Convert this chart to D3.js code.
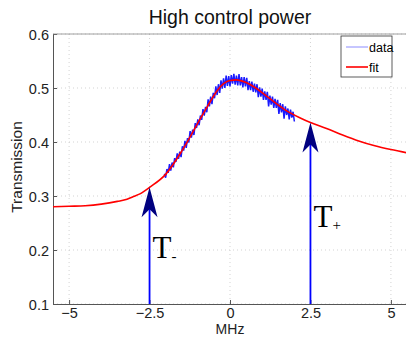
<!DOCTYPE html>
<meta charset="utf-8">
<script src="https://d3js.org/d3.v7.min.js"></script>
<style>
  body { margin: 0; background: #fff; }
</style>
<div id="chart"></div>
<script>

// fit curve
var fitX = [-5.5, -5.0, -4.5, -4.0, -3.5, -3.2, -3.0, -2.8, -2.5, -2.0, -1.5, -1.0, -0.7, -0.4, -0.2, 0.0, 0.2, 0.5, 0.8, 1.2, 1.7, 2.2, 2.5, 3.0, 3.5, 4.0, 4.5, 5.0, 5.5];
var fitY = [0.280, 0.281, 0.282, 0.285, 0.290, 0.294, 0.299, 0.304, 0.316, 0.340, 0.383, 0.435, 0.466, 0.495, 0.508, 0.514, 0.515, 0.510, 0.500, 0.482, 0.460, 0.444, 0.436, 0.425, 0.413, 0.402, 0.393, 0.386, 0.380];

// measured data, sampled every 0.04 MHz from -2.04 to 2.00
var dataStart = -2.04, dataStep = 0.04;
var dataY = [0.341, 0.334, 0.350, 0.343, 0.359, 0.347, 0.362, 0.353, 0.370, 0.363,
             0.379, 0.369, 0.382, 0.372, 0.392, 0.384, 0.402, 0.389, 0.407, 0.399,
             0.420, 0.408, 0.423, 0.413, 0.435, 0.426, 0.442, 0.431, 0.449, 0.441,
             0.461, 0.449, 0.465, 0.455, 0.479, 0.466, 0.484, 0.470, 0.491, 0.481,
             0.503, 0.487, 0.507, 0.491, 0.514, 0.499, 0.518, 0.500, 0.523, 0.504,
             0.522, 0.503, 0.524, 0.508, 0.526, 0.506, 0.523, 0.505, 0.526, 0.505,
             0.520, 0.501, 0.520, 0.503, 0.519, 0.496, 0.513, 0.496, 0.512, 0.493,
             0.508, 0.492, 0.507, 0.483, 0.501, 0.484, 0.499, 0.478, 0.494, 0.478,
             0.493, 0.466, 0.486, 0.469, 0.484, 0.463, 0.480, 0.463, 0.478, 0.452,
             0.472, 0.455, 0.470, 0.443, 0.466, 0.450, 0.462, 0.442, 0.460, 0.445,
             0.456, 0.438];

// arrows marking the two transmission points
var arrowX = [-2.5, 2.5];
var arrowTip = [0.316, 0.436];
var arrowLabel = ["-", "+"];

var xTicks = [-5, -2.5, 0, 2.5, 5];
var yTicks = [0.1, 0.2, 0.3, 0.4, 0.5, 0.6];

var margin = {top: 34, right: -1, bottom: 33, left: 53},
    W = 406, H = 337,
    width = W - margin.left - margin.right,
    height = H - margin.top - margin.bottom;

var sans = "Liberation Sans, Arial, sans-serif";

var svg = d3.select("#chart").append("svg")
    .attr("width", W).attr("height", H)
    .style("font-family", sans);

var g = svg.append("g")
    .attr("transform", "translate(" + margin.left + "," + margin.top + ")");

var x = d3.scaleLinear().domain([-5.5, 5.5]).range([0, width]);
var y = d3.scaleLinear().domain([0.1, 0.6]).range([height, 0]);

g.append("clipPath").attr("id", "clip")
  .append("rect").attr("width", width).attr("height", height);

// dotted grid
g.selectAll(".gx").data(xTicks).enter().append("line")
    .attr("x1", d => x(d)).attr("x2", d => x(d))
    .attr("y1", 0).attr("y2", height)
    .attr("stroke", "#c8c8c8").attr("stroke-width", 0.8)
    .attr("stroke-dasharray", "1,3");
g.selectAll(".gy").data(yTicks).enter().append("line")
    .attr("x1", 0).attr("x2", width)
    .attr("y1", d => y(d)).attr("y2", d => y(d))
    .attr("stroke", "#c8c8c8").attr("stroke-width", 0.8)
    .attr("stroke-dasharray", "1,3");

// axes, ticks pointing inward
var xAxis = g.append("g")
    .attr("transform", "translate(0," + height + ")")
    .call(d3.axisBottom(x).tickValues(xTicks).tickSizeInner(-4).tickSizeOuter(0)
          .tickPadding(4).tickFormat(d => d < 0 ? "\u2212" + Math.abs(d) : d));
var yAxis = g.append("g")
    .call(d3.axisLeft(y).tickValues(yTicks).tickSizeInner(-4).tickSizeOuter(0)
          .tickPadding(4).tickFormat(d3.format(".1f")));
[xAxis, yAxis].forEach(function(a) {
  a.select(".domain").attr("stroke", "#555");
  a.selectAll(".tick line").attr("stroke", "#555");
  a.selectAll("text").attr("font-size", 14.5).attr("fill", "#222")
    .style("font-family", sans);
});
yAxis.selectAll("text").attr("dy", "0.35em");

// top border
g.append("line").attr("x1", 0).attr("x2", width).attr("y1", 0).attr("y2", 0)
    .attr("stroke", "#888").attr("stroke-width", 0.8);

// data trace
var dataPts = dataY.map(function(v, i) { return [dataStart + i * dataStep, v]; });
g.append("path")
    .datum(dataPts)
    .attr("clip-path", "url(#clip)")
    .attr("fill", "none")
    .attr("stroke", "#1a1aff")
    .attr("stroke-width", 1.5)
    .attr("d", d3.line().x(d => x(d[0])).y(d => y(d[1])));

// fit curve
var fitPts = fitX.map(function(v, i) { return [v, fitY[i]]; });
g.append("path")
    .datum(fitPts)
    .attr("clip-path", "url(#clip)")
    .attr("fill", "none")
    .attr("stroke", "#ff0000")
    .attr("stroke-width", 1.6)
    .attr("d", d3.line().curve(d3.curveMonotoneX).x(d => x(d[0])).y(d => y(d[1])));

// arrows
arrowX.forEach(function(ax, i) {
  var px = x(ax), tip = y(arrowTip[i]);
  g.append("line")
      .attr("x1", px).attr("x2", px)
      .attr("y1", height).attr("y2", tip + 20)
      .attr("stroke", "#0000ff").attr("stroke-width", 1.8);
  g.append("path")
      .attr("d", "M" + px + "," + tip +
                 " L" + (px + 8) + "," + (tip + 30) +
                 " L" + px + "," + (tip + 22) +
                 " L" + (px - 8) + "," + (tip + 30) + " Z")
      .attr("fill", "#00007f");
  var lbl = g.append("text")
      .attr("x", px + 3)
      .attr("y", tip + (i === 0 ? 71 : 104))
      .style("font-family", "Liberation Serif, Times New Roman, serif")
      .attr("font-size", 31)
      .attr("fill", "#000");
  lbl.append("tspan").text("T");
  lbl.append("tspan").attr("font-size", 15).attr("dy", 3).attr("fill", "#000").text(arrowLabel[i]);
});

// legend
var leg = svg.append("g").attr("transform", "translate(341,36)");
leg.append("rect").attr("width", 51).attr("height", 41)
    .attr("fill", "#fff").attr("stroke", "#333").attr("stroke-width", 0.8);
leg.append("line").attr("x1", 5).attr("x2", 27).attr("y1", 11).attr("y2", 11)
    .attr("stroke", "#8c8cff").attr("stroke-width", 1);
leg.append("text").attr("x", 28).attr("y", 15.5).attr("font-size", 12.5).text("data");
leg.append("line").attr("x1", 5).attr("x2", 27).attr("y1", 31).attr("y2", 31)
    .attr("stroke", "#ff0000").attr("stroke-width", 1.6);
leg.append("text").attr("x", 28).attr("y", 35.5).attr("font-size", 12.5).text("fit");

// titles
svg.append("text").attr("x", 230).attr("y", 334).attr("text-anchor", "middle")
    .attr("font-size", 14).attr("fill", "#222").text("MHz");
svg.append("text").attr("x", 230).attr("y", 24).attr("text-anchor", "middle")
    .attr("font-size", 19.5).attr("fill", "#111").text("High control power");
svg.append("text").attr("transform", "translate(22,167) rotate(-90)")
    .attr("text-anchor", "middle").attr("font-size", 15.5).attr("fill", "#222")
    .text("Transmission");
</script>
